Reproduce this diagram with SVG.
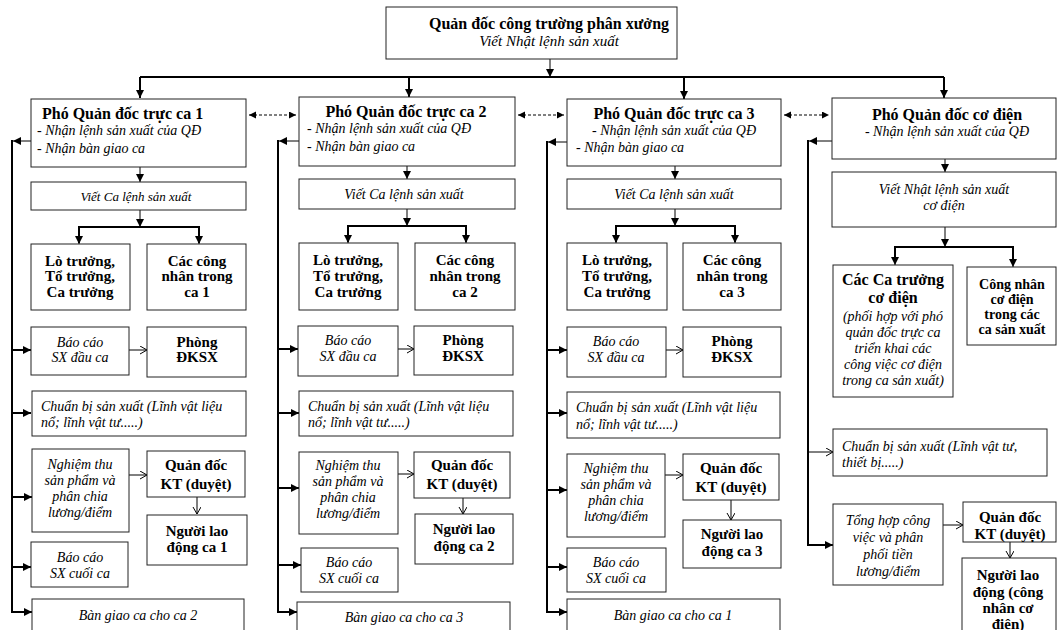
<svg xmlns="http://www.w3.org/2000/svg" width="1057" height="630" viewBox="0 0 1057 630">
<style>
.bx{fill:#fff;stroke:#222;stroke-width:1}
text{font-family:"Liberation Serif","Times New Roman",serif;fill:#000}
.t{font-size:16px;font-weight:bold}
.b{font-size:15px;font-weight:bold;text-anchor:middle}
.i{font-size:14px;font-style:italic}
.ic{font-size:14px;font-style:italic;text-anchor:middle}
.m{text-anchor:middle}
.k{fill:none;stroke:#000;stroke-width:2}
.n{fill:none;stroke:#000;stroke-width:1}
.d{fill:none;stroke:#000;stroke-width:1;stroke-dasharray:3,2}
</style>
<defs>
<marker id="ah" markerUnits="userSpaceOnUse" markerWidth="10" markerHeight="10" refX="8" refY="4" orient="auto"><path d="M0,0 L8,4 L0,8 z" fill="#000"/></marker>
<marker id="sh" markerUnits="userSpaceOnUse" markerWidth="9" markerHeight="9" refX="7" refY="3.5" orient="auto-start-reverse"><path d="M0,0 L7,3.5 L0,7 z" fill="#000"/></marker>
<marker id="oh" markerUnits="userSpaceOnUse" markerWidth="10" markerHeight="10" refX="7" refY="4" orient="auto"><path d="M0,0 L7,4 L0,8" fill="none" stroke="#000" stroke-width="1"/></marker>
<clipPath id="c4q"><rect x="963" y="502" width="94" height="40"/></clipPath>
</defs>

<g id="connectors">
<path class="n" d="M550,59 V77" marker-end="url(#ah)"/>
<path class="k" d="M140,77 H944"/>
<path class="k" d="M140,77 V98" marker-end="url(#ah)"/>
<path class="k" d="M409,77 V97" marker-end="url(#ah)"/>
<path class="k" d="M684,77 V99" marker-end="url(#ah)"/>
<path class="k" d="M944,77 V98" marker-end="url(#ah)"/>
<path class="d" d="M249,115 H296" marker-start="url(#sh)" marker-end="url(#sh)"/>
<path class="d" d="M518,115 H564" marker-start="url(#sh)" marker-end="url(#sh)"/>
<path class="d" d="M784,115 H829" marker-start="url(#sh)" marker-end="url(#sh)"/>

<!-- col1 -->
<path class="n" d="M140,167 V182" marker-end="url(#ah)"/>
<path class="n" d="M140,210 V227" marker-end="url(#ah)"/>
<path class="k" d="M79,243 V227 H199 V243"/>
<path class="n" d="M79,236 V244" marker-end="url(#ah)"/>
<path class="n" d="M199,236 V244" marker-end="url(#ah)"/>
<path class="n" d="M129,350 H147" marker-end="url(#oh)"/>
<path class="n" d="M129,475 H147" marker-end="url(#oh)"/>
<path class="n" d="M197,497 V514" marker-end="url(#oh)"/>
<path class="n" d="M31,141 H13" marker-end="url(#ah)"/>
<path class="k" d="M12,140 V612"/>
<path class="k" d="M12,350 H31" marker-end="url(#ah)"/>
<path class="k" d="M12,413 H31" marker-end="url(#ah)"/>
<path class="k" d="M12,497 H32" marker-end="url(#ah)"/>
<path class="k" d="M12,567 H31" marker-end="url(#ah)"/>
<path class="k" d="M11,612 H32" marker-end="url(#ah)"/>

<!-- col2 -->
<path class="n" d="M407,166 V179" marker-end="url(#ah)"/>
<path class="n" d="M407,209 V226" marker-end="url(#ah)"/>
<path class="k" d="M348,242 V226 H466 V242"/>
<path class="n" d="M348,235 V243" marker-end="url(#ah)"/>
<path class="n" d="M466,235 V243" marker-end="url(#ah)"/>
<path class="n" d="M398,349 H414" marker-end="url(#oh)"/>
<path class="n" d="M398,474 H414" marker-end="url(#oh)"/>
<path class="n" d="M463,498 V514" marker-end="url(#oh)"/>
<path class="n" d="M299,141 H279" marker-end="url(#ah)"/>
<path class="k" d="M278,140 V612"/>
<path class="k" d="M278,349 H298" marker-end="url(#ah)"/>
<path class="k" d="M278,413 H299" marker-end="url(#ah)"/>
<path class="k" d="M278,488 H299" marker-end="url(#ah)"/>
<path class="k" d="M278,565 H301" marker-end="url(#ah)"/>
<path class="k" d="M277,612 H297" marker-end="url(#ah)"/>

<!-- col3 -->
<path class="n" d="M675,166 V179" marker-end="url(#ah)"/>
<path class="n" d="M675,209 V226" marker-end="url(#ah)"/>
<path class="k" d="M616,242 V226 H735 V242"/>
<path class="n" d="M616,235 V243" marker-end="url(#ah)"/>
<path class="n" d="M735,235 V243" marker-end="url(#ah)"/>
<path class="n" d="M666,350 H683" marker-end="url(#oh)"/>
<path class="n" d="M665,475 H683" marker-end="url(#oh)"/>
<path class="n" d="M731,500 V520" marker-end="url(#oh)"/>
<path class="n" d="M567,142 H548" marker-end="url(#ah)"/>
<path class="k" d="M547,141 V612"/>
<path class="k" d="M547,350 H567" marker-end="url(#ah)"/>
<path class="k" d="M547,413 H567" marker-end="url(#ah)"/>
<path class="k" d="M547,490 H567" marker-end="url(#ah)"/>
<path class="k" d="M547,567 H567" marker-end="url(#ah)"/>
<path class="k" d="M546,612 H567" marker-end="url(#ah)"/>

<!-- col4 -->
<path class="n" d="M945,159 V172" marker-end="url(#ah)"/>
<path class="n" d="M945,227 V247" marker-end="url(#ah)"/>
<path class="k" d="M895,263 V247 H1013 V263"/>
<path class="n" d="M895,256 V265" marker-end="url(#ah)"/>
<path class="n" d="M1013,256 V267" marker-end="url(#ah)"/>
<path class="n" d="M832,141 H809" marker-end="url(#ah)"/>
<path class="k" d="M808,140 V545"/>
<path class="n" d="M808,452 H833" marker-end="url(#oh)"/>
<path class="k" d="M807,545 H833" marker-end="url(#ah)"/>
<path class="n" d="M943,525 H963" marker-end="url(#oh)"/>
<path class="n" d="M1010,542 V558" marker-end="url(#oh)"/>
</g>

<g id="top">
<rect class="bx" x="386" y="7" width="291" height="52"/>
<text class="t m" x="549" y="29">Quản đốc công trường phân xưởng</text>
<text class="ic" x="549" y="46" style="font-size:15px">Viết Nhật lệnh sản xuất</text>
</g>

<!-- ===== column 1 ===== -->
<g id="c1-head">
<rect class="bx" x="31" y="99" width="215" height="68"/>
<text class="t" x="42" y="119">Phó Quản đốc trực ca 1</text>
<text class="i" x="37" y="135">- Nhận lệnh sản xuất của QĐ</text>
<text class="i" x="37" y="153">- Nhận bàn giao ca</text>
</g>
<g id="c1-viet"><rect class="bx" x="31" y="182" width="215" height="28"/><text class="ic" x="136" y="201" style="font-size:13px">Viết Ca lệnh sản xuất</text></g>
<g id="c1-lo"><rect class="bx" x="31" y="244" width="99" height="66"/><text class="b" x="80" y="266">Lò trưởng,</text><text class="b" x="80" y="281">Tổ trưởng,</text><text class="b" x="80" y="297">Ca trưởng</text></g>
<g id="c1-cn"><rect class="bx" x="147" y="244" width="99" height="66"/><text class="b" x="197" y="266">Các công</text><text class="b" x="197" y="281">nhân trong</text><text class="b" x="197" y="297">ca 1</text></g>
<g id="c1-bcd"><rect class="bx" x="31" y="327" width="98" height="48"/><text class="ic" x="80" y="347">Báo cáo</text><text class="ic" x="80" y="362">SX đầu ca</text></g>
<g id="c1-pk"><rect class="bx" x="147" y="327" width="99" height="50"/><text class="b" x="197" y="347">Phòng</text><text class="b" x="197" y="362">ĐKSX</text></g>
<g id="c1-cb"><rect class="bx" x="32" y="391" width="214" height="45"/><text class="i" x="41" y="411">Chuẩn bị sản xuất (Lĩnh vật liệu</text><text class="i" x="41" y="427">nổ; lĩnh vật tư.....)</text></g>
<g id="c1-nt"><rect class="bx" x="32" y="449" width="97" height="83"/><text class="ic" x="80" y="469">Nghiệm thu</text><text class="ic" x="80" y="485">sản phẩm và</text><text class="ic" x="80" y="501">phân chia</text><text class="ic" x="80" y="517">lương/điểm</text></g>
<g id="c1-qd"><rect class="bx" x="147" y="451" width="98" height="46"/><text class="b" x="196" y="470">Quản đốc</text><text class="b" x="196" y="489">KT (duyệt)</text></g>
<g id="c1-nl"><rect class="bx" x="147" y="515" width="100" height="50"/><text class="b" x="197" y="536">Người lao</text><text class="b" x="197" y="552">động ca 1</text></g>
<g id="c1-bcc"><rect class="bx" x="31" y="542" width="97" height="45"/><text class="ic" x="80" y="562">Báo cáo</text><text class="ic" x="80" y="578">SX cuối ca</text></g>
<g id="c1-bg"><rect class="bx" x="32" y="599" width="212" height="40"/><text class="ic" x="138" y="620">Bàn giao ca cho ca 2</text></g>

<!-- ===== column 2 ===== -->
<g id="c2-head">
<rect class="bx" x="299" y="97" width="216" height="69"/>
<text class="t m" x="406" y="117">Phó Quản đốc trực ca 2</text>
<text class="i" x="307" y="133">- Nhận lệnh sản xuất của QĐ</text>
<text class="i" x="307" y="151">- Nhận bàn giao ca</text>
</g>
<g id="c2-viet"><rect class="bx" x="299" y="179" width="216" height="30"/><text class="ic" x="404" y="199">Viết Ca lệnh sản xuất</text></g>
<g id="c2-lo"><rect class="bx" x="299" y="243" width="99" height="67"/><text class="b" x="348" y="265">Lò trưởng,</text><text class="b" x="348" y="281">Tổ trưởng,</text><text class="b" x="348" y="297">Ca trưởng</text></g>
<g id="c2-cn"><rect class="bx" x="415" y="243" width="100" height="67"/><text class="b" x="465" y="265">Các công</text><text class="b" x="465" y="281">nhân trong</text><text class="b" x="465" y="297">ca 2</text></g>
<g id="c2-bcd"><rect class="bx" x="298" y="326" width="100" height="50"/><text class="ic" x="348" y="345">Báo cáo</text><text class="ic" x="348" y="361">SX đầu ca</text></g>
<g id="c2-pk"><rect class="bx" x="414" y="326" width="99" height="49"/><text class="b" x="463" y="345">Phòng</text><text class="b" x="463" y="361">ĐKSX</text></g>
<g id="c2-cb"><rect class="bx" x="299" y="391" width="214" height="45"/><text class="i" x="308" y="411">Chuẩn bị sản xuất (Lĩnh vật liệu</text><text class="i" x="308" y="427">nổ; lĩnh vật tư.....)</text></g>
<g id="c2-nt"><rect class="bx" x="299" y="452" width="99" height="82"/><text class="ic" x="348" y="470">Nghiệm thu</text><text class="ic" x="348" y="486">sản phẩm và</text><text class="ic" x="348" y="502">phân chia</text><text class="ic" x="348" y="518">lương/điểm</text></g>
<g id="c2-qd"><rect class="bx" x="414" y="452" width="96" height="46"/><text class="b" x="462" y="470">Quản đốc</text><text class="b" x="462" y="489">KT (duyệt)</text></g>
<g id="c2-nl"><rect class="bx" x="415" y="514" width="98" height="50"/><text class="b" x="464" y="534">Người lao</text><text class="b" x="464" y="551">động ca 2</text></g>
<g id="c2-bcc"><rect class="bx" x="301" y="548" width="97" height="44"/><text class="ic" x="349" y="567">Báo cáo</text><text class="ic" x="349" y="583">SX cuối ca</text></g>
<g id="c2-bg"><rect class="bx" x="297" y="602" width="213" height="40"/><text class="ic" x="404" y="622">Bàn giao ca cho ca 3</text></g>

<!-- ===== column 3 ===== -->
<g id="c3-head">
<rect class="bx" x="567" y="99" width="214" height="67"/>
<text class="t m" x="674" y="119">Phó Quản đốc trực ca 3</text>
<text class="i" x="592" y="135">- Nhận lệnh sản xuất của QĐ</text>
<text class="i" x="576" y="152">- Nhận bàn giao ca</text>
</g>
<g id="c3-viet"><rect class="bx" x="567" y="179" width="214" height="30"/><text class="ic" x="674" y="199">Viết Ca lệnh sản xuất</text></g>
<g id="c3-lo"><rect class="bx" x="567" y="243" width="100" height="67"/><text class="b" x="617" y="265">Lò trưởng,</text><text class="b" x="617" y="281">Tổ trưởng,</text><text class="b" x="617" y="297">Ca trưởng</text></g>
<g id="c3-cn"><rect class="bx" x="683" y="243" width="98" height="67"/><text class="b" x="732" y="265">Các công</text><text class="b" x="732" y="281">nhân trong</text><text class="b" x="732" y="297">ca 3</text></g>
<g id="c3-bcd"><rect class="bx" x="567" y="327" width="99" height="50"/><text class="ic" x="616" y="346">Báo cáo</text><text class="ic" x="616" y="362">SX đầu ca</text></g>
<g id="c3-pk"><rect class="bx" x="683" y="327" width="98" height="50"/><text class="b" x="732" y="346">Phòng</text><text class="b" x="732" y="362">ĐKSX</text></g>
<g id="c3-cb"><rect class="bx" x="567" y="392" width="213" height="46"/><text class="i" x="576" y="412">Chuẩn bị sản xuất (Lĩnh vật liệu</text><text class="i" x="576" y="429">nổ; lĩnh vật tư.....)</text></g>
<g id="c3-nt"><rect class="bx" x="567" y="454" width="98" height="83"/><text class="ic" x="616" y="473">Nghiệm thu</text><text class="ic" x="616" y="489">sản phẩm và</text><text class="ic" x="616" y="505">phân chia</text><text class="ic" x="616" y="521">lương/điểm</text></g>
<g id="c3-qd"><rect class="bx" x="683" y="454" width="96" height="46"/><text class="b" x="731" y="473">Quản đốc</text><text class="b" x="731" y="492">KT (duyệt)</text></g>
<g id="c3-nl"><rect class="bx" x="683" y="520" width="98" height="48"/><text class="b" x="732" y="539">Người lao</text><text class="b" x="732" y="556">động ca 3</text></g>
<g id="c3-bcc"><rect class="bx" x="567" y="548" width="99" height="44"/><text class="ic" x="616" y="567">Báo cáo</text><text class="ic" x="616" y="583">SX cuối ca</text></g>
<g id="c3-bg"><rect class="bx" x="567" y="599" width="213" height="40"/><text class="ic" x="673" y="620">Bàn giao ca cho ca 1</text></g>

<!-- ===== column 4 ===== -->
<g id="c4-head">
<rect class="bx" x="832" y="98" width="224" height="61"/>
<text class="t m" x="947" y="120">Phó Quản đốc cơ điện</text>
<text class="ic" x="947" y="136">- Nhận lệnh sản xuất của QĐ</text>
</g>
<g id="c4-viet"><rect class="bx" x="832" y="172" width="224" height="55"/><text class="ic" x="944" y="194">Viết Nhật lệnh sản xuất</text><text class="ic" x="944" y="210">cơ điện</text></g>
<g id="c4-ct"><rect class="bx" x="833" y="265" width="120" height="132"/>
<text class="b" x="893" y="285" style="font-size:16px">Các Ca trưởng</text>
<text class="b" x="893" y="303" style="font-size:16px">cơ điện</text>
<text class="ic" x="893" y="321">(phối hợp với phó</text>
<text class="ic" x="893" y="337">quản đốc trực ca</text>
<text class="ic" x="893" y="353">triển khai các</text>
<text class="ic" x="893" y="369">công việc cơ điện</text>
<text class="ic" x="893" y="385">trong ca sản xuất)</text>
</g>
<g id="c4-cn"><rect class="bx" x="967" y="267" width="89" height="78"/>
<text class="b" x="1012" y="289" style="font-size:14px">Công nhân</text>
<text class="b" x="1012" y="304" style="font-size:14px">cơ điện</text>
<text class="b" x="1012" y="319" style="font-size:14px">trong các</text>
<text class="b" x="1012" y="334" style="font-size:14px">ca sản xuất</text>
</g>
<g id="c4-cb"><rect class="bx" x="833" y="429" width="214" height="47"/><text class="i" x="842" y="451">Chuẩn bị sản xuất (Lĩnh vật tư,</text><text class="i" x="842" y="467">thiết bị.....)</text></g>
<g id="c4-th"><rect class="bx" x="833" y="504" width="110" height="81"/><text class="ic" x="888" y="525">Tổng hợp công</text><text class="ic" x="888" y="542">việc và phân</text><text class="ic" x="888" y="559">phối tiền</text><text class="ic" x="888" y="576">lương/điểm</text></g>
<g id="c4-qd"><rect class="bx" x="963" y="502" width="93" height="40"/><g clip-path="url(#c4q)"><text class="b" x="1010" y="522">Quản đốc</text><text class="b" x="1010" y="539">KT (duyệt)</text></g></g>
<g id="c4-nl"><rect class="bx" x="962" y="558" width="94" height="80"/><text class="b" x="1008" y="580">Người lao</text><text class="b" x="1008" y="597">động (công</text><text class="b" x="1008" y="613">nhân cơ</text><text class="b" x="1008" y="629">điện)</text></g>
</svg>
